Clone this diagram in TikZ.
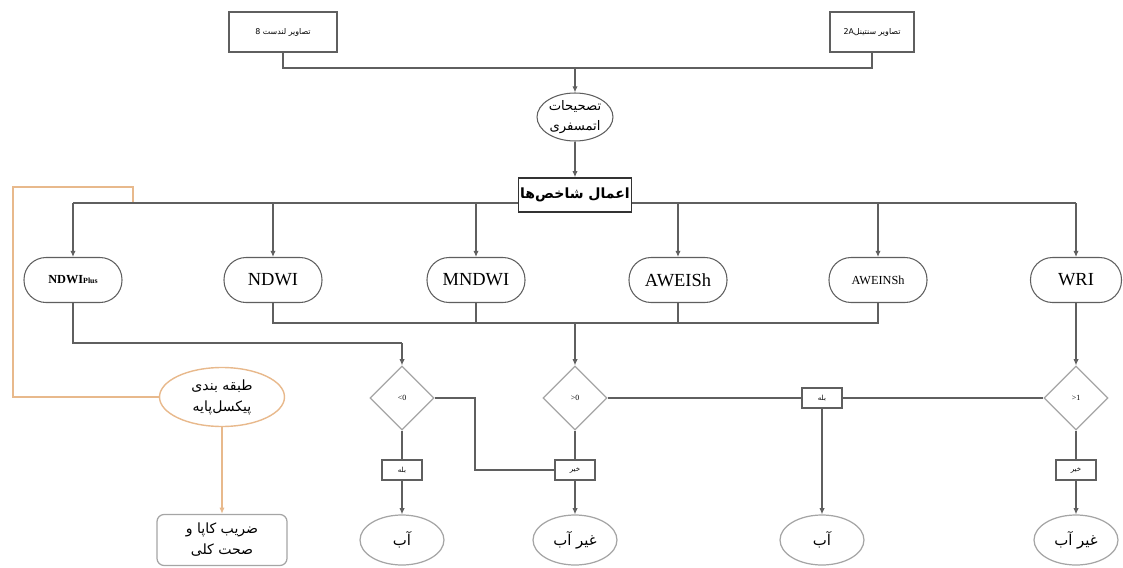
\documentclass[tikz,border=0pt]{standalone}
\usepackage{fontspec}
\setmainfont{Liberation Serif}
\newfontfamily\arabicfont[Script=Arabic]{DejaVu Sans}
\TeXXeTstate=1
\usetikzlibrary{shapes.geometric,arrows.meta}
\definecolor{lineg}{RGB}{95,95,95}
\definecolor{shapeg}{RGB}{165,165,165}
\definecolor{orng}{RGB}{232,185,140}
\newcommand\prs[1]{{\arabicfont\beginR #1\endR}}
\tikzset{
  conn/.style={draw=lineg, line width=0.6pt},
  arr/.style={conn, -{Latex[length=3.5pt,width=3pt]}},
  oline/.style={draw=orng, line width=0.7pt},
  oarr/.style={oline, -{Latex[length=3.5pt,width=3pt]}},
  topbox/.style={draw=lineg, line width=0.6pt, fill=white, rectangle, minimum height=0.8cm, inner sep=1pt, font=\fontsize{4.5}{5}\selectfont},
  applybox/.style={draw=black!80, line width=0.9pt, fill=white, rectangle, minimum width=2.12cm, minimum height=0.68cm, inner sep=1pt, font=\fontsize{8}{9}\selectfont\bfseries},
  idx/.style={draw=lineg, line width=0.6pt, fill=white, rectangle, rounded corners=0.44cm, minimum width=1.96cm, minimum height=0.9cm, inner sep=1pt, font=\fontsize{10.5}{12}\selectfont},
  dec/.style={draw=shapeg, line width=0.7pt, fill=white, diamond, aspect=1, minimum width=1.28cm, minimum height=1.28cm, inner sep=0pt, font=\fontsize{4.5}{5}\selectfont},
  yn/.style={draw=lineg, line width=0.6pt, fill=white, rectangle, minimum width=0.8cm, minimum height=0.4cm, inner sep=0pt, font=\fontsize{4}{5}\selectfont},
  endell/.style={draw=shapeg, line width=0.7pt, fill=white, ellipse, minimum width=1.68cm, minimum height=1.0cm, inner sep=0pt, font=\fontsize{8.5}{10}\selectfont},
  atmell/.style={draw=lineg, line width=0.6pt, fill=white, ellipse, minimum width=1.52cm, minimum height=0.96cm, inner sep=0pt, align=center, font=\fontsize{7.5}{11}\selectfont},
  clsell/.style={draw=orng, line width=0.8pt, fill=white, ellipse, minimum width=2.5cm, minimum height=1.18cm, inner sep=0pt, align=center, font=\fontsize{8}{12}\selectfont},
  kapbox/.style={draw=shapeg, line width=0.7pt, fill=white, rectangle, rounded corners=4pt, minimum width=2.6cm, minimum height=1.02cm, inner sep=0pt, align=center, font=\fontsize{8}{12}\selectfont},
}
\begin{document}
\begin{tikzpicture}[x=0.02cm,y=-0.02cm]
\useasboundingbox (0,0) rectangle (1123,568);

% top
\node[topbox, minimum width=2.16cm] (land) at (283,32) {\prs{تصاویر لندست 8}};
\node[topbox, minimum width=1.68cm] (sen) at (872,32) {\prs{تصاویر سنتینل\beginL 2A\endL}};
\coordinate (top) at (575,68);
\node[atmell] (atm) at (575,117) {\prs{تصحیحات}\\\prs{اتمسفری}};
\coordinate (bus) at (575,203);
\coordinate (o1) at (133,187);
\coordinate (o2) at (13,187);

% index nodes
\node[idx, font=\fontsize{7}{8}\selectfont\bfseries] (ndwip) at (73,280) {NDWI{\fontsize{4.5}{5}\selectfont Plus}};
\node[idx] (ndwi) at (273,280) {NDWI};
\node[idx] (mndwi) at (476,280) {MNDWI};
\node[idx] (aweish) at (678,280) {AWEISh};
\node[idx, font=\fontsize{7}{8}\selectfont] (awns) at (878,280) {AWEINSh};
\node[idx, minimum width=1.82cm] (wri) at (1076,280) {WRI};

% connectors top
\draw[conn] (land.south) -- (land.south |- top) -- (sen.south |- top) -- (sen.south);
\draw[arr] (top) -- (atm.north);
\draw[oline] (o1 |- bus) -- (o1) -- (o2) |- (222,397);
\draw[conn] (ndwip.north |- bus) -- (wri.north |- bus);
\node[applybox] (apply) at (575,195) {\prs{اعمال شاخص‌ها}};
\draw[arr] (atm.south) -- (apply.north);
\foreach \n in {ndwip,ndwi,mndwi,aweish,awns,wri}
  \draw[arr] (\n.north |- bus) -- (\n.north);

% decisions
\node[dec] (d1) at (402,398) {\beginL <0\endL};
\node[dec] (d2) at (575,398) {\beginL >0\endL};
\node[dec] (d3) at (1076,398) {\beginL >1\endL};
\coordinate (j1) at (402,343);
\coordinate (j2) at (575,323);
\coordinate (k1) at (475,470);

\node[yn] (yes1) at (402,470) {\prs{بله}};
\node[yn] (no1) at (575,470) {\prs{خیر}};
\node[yn] (yes2) at (822,398) {\prs{بله}};
\node[yn] (no2) at (1076,470) {\prs{خیر}};

\node[endell] (w1) at (402,540) {\prs{آب}};
\node[endell] (nw1) at (575,540) {\prs{غیر آب}};
\node[endell] (w2) at (822,540) {\prs{آب}};
\node[endell] (nw2) at (1076,540) {\prs{غیر آب}};

\node[clsell] (cls) at (222,397) {\prs{طبقه بندی}\\\prs{پیکسل‌پایه}};
\node[kapbox] (kappa) at (222,540) {\prs{ضریب کاپا و}\\\prs{صحت کلی}};

\draw[conn] (ndwip.south) |- (j1);
\draw[arr] (j1) -- (d1.north);
\draw[conn] (ndwi.south) |- (awns.south |- j2) -- (awns.south);
\draw[conn] (mndwi.south) -- (mndwi.south |- j2);
\draw[conn] (aweish.south) -- (aweish.south |- j2);
\draw[arr] (j2) -- (d2.north);
\draw[arr] (wri.south) -- (d3.north);

\draw[conn] (d1.east) -| (k1) -- (no1.west);
\draw[conn] (d1.south) -- (yes1.north);
\draw[arr] (yes1.south) -- (w1.north);
\draw[conn] (d2.east) -- (yes2.west);
\draw[conn] (yes2.east) -- (d3.west);
\draw[arr] (yes2.south) -- (w2.north);
\draw[conn] (d2.south) -- (no1.north);
\draw[arr] (no1.south) -- (nw1.north);
\draw[conn] (d3.south) -- (no2.north);
\draw[arr] (no2.south) -- (nw2.north);
\draw[oarr] (cls.south) -- (kappa.north);
\end{tikzpicture}
\end{document}
